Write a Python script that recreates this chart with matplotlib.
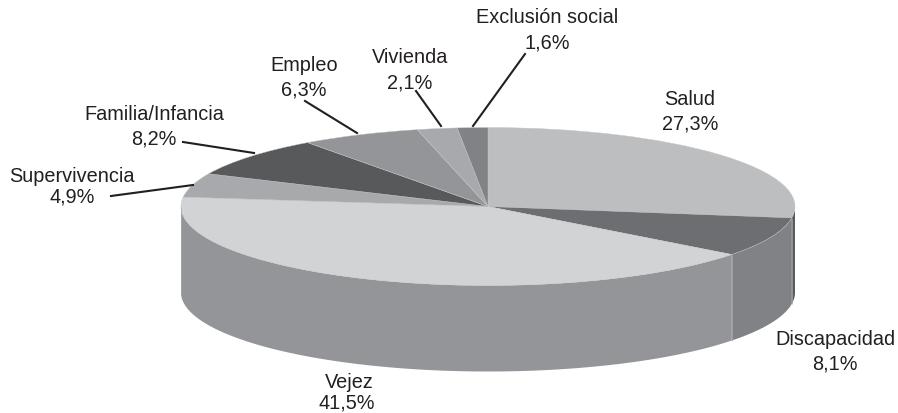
import numpy as np
from matplotlib import pyplot as plt

categorias = ['Salud', 'Discapacidad', 'Vejez', 'Supervivencia', 'Familia/Infancia', 'Empleo', 'Vivienda', 'Exclusión social']
valores = [27.3, 8.1, 41.5, 4.9, 8.2, 6.3, 2.1, 1.6]
etiquetas = ['27,3%', '8,1%', '41,5%', '4,9%', '8,2%', '6,3%', '2,1%', '1,6%']

col_tapa = ['#bcbec0', '#6d6e71', '#d1d3d4', '#a7a9ac', '#58595b', '#939598', '#a7a9ac', '#808285']
col_lado = ['#58595b', '#808285', '#939598', '#939598', '#58595b', '#939598', '#a7a9ac', '#808285']

# geometria de la elipse, en pixeles de la imagen
W, H = 898, 414
cx, cy, rx, ry = 488, 207.5, 307, 79
prof = 86 / ry

# x, y de cada etiqueta (centro de cada linea)
pos_nombre = [(690, 100), (835, 340), (349, 383), (72, 177), (154, 115), (304, 66), (410, 58), (547, 18)]
pos_valor = [(690, 124), (835, 364), (347, 403), (72, 197), (154, 139), (304, 90), (410, 83), (547, 43)]
# lineas guia: (x0, y0, x1, y1)
guias = {3: (111, 197, 193, 186), 4: (183, 143, 254, 154), 5: (305, 102, 357, 134),
         6: (416, 92, 441, 127), 7: (525, 55, 473, 127)}

fig = plt.figure(figsize=(W / 100, H / 100), dpi=100)
ax = fig.add_axes([0, 0, 1, 1])


def dx(x):
    return (x - cx) / rx


def dy(y):
    return (cy - y) / ry


# paredes de la parte delantera
fin = 90 - np.cumsum(valores) * 3.6
ini = np.r_[90, fin[:-1]]
for a0, a1, c in zip(ini, fin, col_lado):
    t = np.radians(np.linspace(a0, a1, 200))
    t = t[np.sin(t) <= 0.0]
    if len(t) == 0:
        continue
    xs, ys = np.cos(t), np.sin(t)
    ax.fill(np.r_[xs, xs[::-1]], np.r_[ys, ys[::-1] - prof], color=c, lw=0)
    ax.plot([xs[-1], xs[-1]], [ys[-1], ys[-1] - prof], color='#a9abae', lw=0.5, solid_capstyle='butt')

ax.pie(valores, colors=col_tapa, startangle=90, counterclock=False, radius=1,
       wedgeprops=dict(edgecolor='#c4c5c7', linewidth=0.3))
ax.set_aspect('auto')
ax.set_xlim(dx(0), dx(W))
ax.set_ylim(dy(H), dy(0))
ax.axis('off')

for i, nombre in enumerate(categorias):
    ax.text(dx(pos_nombre[i][0]), dy(pos_nombre[i][1]), nombre, ha='center', va='center',
            fontsize=14.3, family='Liberation Sans', color='#231f20')
    ax.text(dx(pos_valor[i][0]), dy(pos_valor[i][1]), etiquetas[i], ha='center', va='center',
            fontsize=14.3, family='Liberation Sans', color='#231f20')

for x0, y0, x1, y1 in guias.values():
    ax.plot([dx(x0), dx(x1)], [dy(y0), dy(y1)], color='#231f20', lw=1.5)

fig.savefig('out.png', dpi=100)
